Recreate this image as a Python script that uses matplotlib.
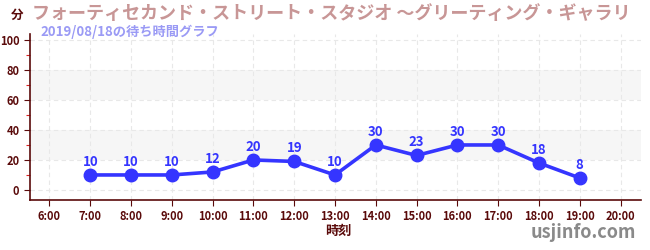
import matplotlib
matplotlib.use("Agg")
import matplotlib.pyplot as plt
from matplotlib.ticker import MultipleLocator

plt.rcParams['font.family'] = ['Noto Sans CJK JP', 'DejaVu Sans']

hours = [7, 8, 9, 10, 11, 12, 13, 14, 15, 16, 17, 18, 19]
waits = [10, 10, 10, 12, 20, 19, 10, 30, 23, 30, 30, 18, 8]
xticks = list(range(6, 21))
xlabels = [f"{h}:00" for h in xticks]

# title as visible in the reference (it runs off the right edge there)
title = "フォーティセカンド・ストリート・スタジオ ～グリーティング・ギャラリ"
subtitle = "2019/08/18の待ち時間グラフ"

axis_col = '#5a0a0a'
line_col = '#3535ff'

fig = plt.figure(figsize=(6.5, 2.5), dpi=100)
ax = fig.add_axes([0.046, 0.2, 0.94, 0.664])

ax.set_xlim(5.52, 20.5)
ax.set_ylim(-6.7, 104)

for lo, hi in [(20, 40), (60, 80)]:
    ax.axhspan(lo, hi, color='#f6f6f6', zorder=0, lw=0)

ax.grid(True, which='major', color='#e8e8e8', linestyle=(0, (4, 3)), lw=0.8, zorder=1)

ax.plot(hours, waits, color=line_col, lw=2.6, marker='o', ms=9, zorder=3)
for h, w in zip(hours, waits):
    ax.text(h, w + 4, str(w), ha='center', va='bottom', color=line_col,
            fontsize=9.5, fontweight='bold', zorder=4)

ax.set_xticks(xticks)
ax.set_xticklabels(xlabels)
ax.yaxis.set_major_locator(MultipleLocator(20))
ax.yaxis.set_minor_locator(MultipleLocator(10))
ax.tick_params(axis='both', which='major', colors=axis_col, labelsize=8, length=4, width=0.8)
ax.tick_params(axis='y', which='minor', colors='#dd2222', length=3, width=0.8)
ax.tick_params(axis='y', which='minor', labelcolor=axis_col)
for lbl in ax.get_xticklabels() + ax.get_yticklabels():
    lbl.set_fontweight('bold')

for s in ['top', 'right']:
    ax.spines[s].set_visible(False)
for s in ['left', 'bottom']:
    ax.spines[s].set_color(axis_col)
    ax.spines[s].set_linewidth(1.2)

fig.text(0.026, 0.94, "分", ha='center', va='center', color=axis_col, fontsize=9, fontweight='bold')
fig.text(0.05, 0.945, title, ha='left', va='center', color='#c89696', fontsize=13, fontweight='bold')
fig.text(0.062, 0.872, subtitle, ha='left', va='center', color='#9a9af5', fontsize=9.5, fontweight='bold')
fig.text(0.52, 0.075, "時刻", ha='center', va='center', color=axis_col, fontsize=9.5, fontweight='bold')
fig.text(0.978, 0.072, "usjinfo.com", ha='right', va='center', color='#8a8a8a', fontsize=13, fontweight='bold')

fig.savefig("out.png", dpi=100)
